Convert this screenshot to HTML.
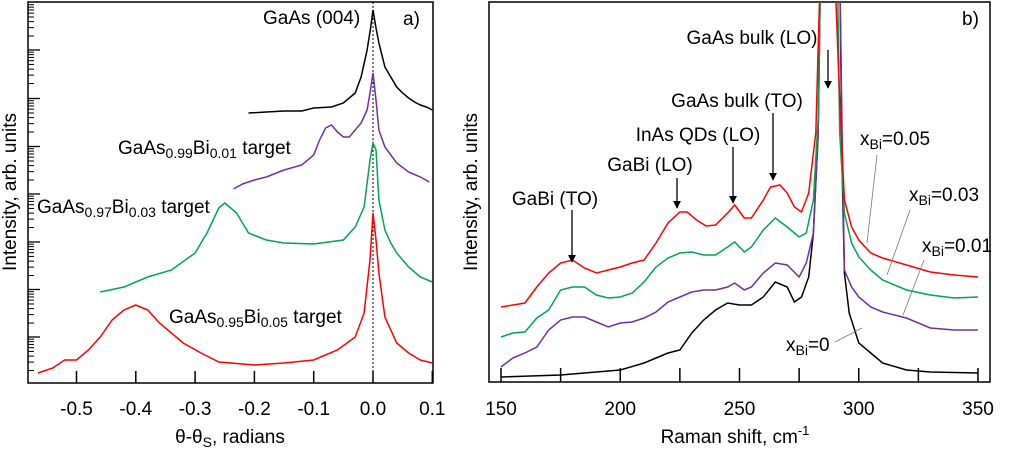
<!DOCTYPE html>
<html><head><meta charset="utf-8"><style>
html,body{margin:0;padding:0;background:#fff;}
svg{display:block;font-family:"Liberation Sans",Arial,sans-serif;}
</style></head><body>
<svg id="fig" width="1024" height="450" viewBox="0 0 1024 450" xmlns="http://www.w3.org/2000/svg">
<defs>
<clipPath id="clipA"><rect x="28" y="2" width="405" height="381"/></clipPath>
<clipPath id="clipB"><rect x="489" y="2" width="501" height="380"/></clipPath>
</defs>
<g id="panelA"></g>
<g id="panelB"></g>
</svg>
<script>
// ---- Panel a data (x: θ-θS radians, y: arb. intensity, 0 = bottom of axes) ----
const aXTicks = [-0.5,-0.4,-0.3,-0.2,-0.1,0.0,0.1];
const aXTickLabels = ["-0.5","-0.4","-0.3","-0.2","-0.1","0.0","0.1"];
const aBlackX = [-0.21,-0.18,-0.15,-0.12,-0.1,-0.07,-0.05,-0.03,-0.02,-0.01,-0.004,0.0,0.005,0.01,0.02,0.03,0.04,0.05,0.06,0.07,0.08,0.09,0.1];
const aBlackY = [270,271,272,272,275,276,280,290,306,333,355,373,355,340,316,306,296,290,285,281,278,276,273];
const aPurpleX = [-0.235,-0.22,-0.2,-0.18,-0.15,-0.12,-0.1,-0.09,-0.08,-0.07,-0.06,-0.05,-0.04,-0.02,-0.01,-0.005,0.0,0.005,0.01,0.02,0.03,0.04,0.06,0.08,0.095];
const aPurpleY = [194,199,203,206,213,218,228,243,255,258,251,246,246,260,273,290,310,283,253,236,228,220,211,206,201];
const aGreenX = [-0.46,-0.42,-0.38,-0.34,-0.3,-0.28,-0.26,-0.25,-0.23,-0.21,-0.18,-0.15,-0.1,-0.05,-0.03,-0.015,-0.005,0.0,0.005,0.01,0.02,0.03,0.04,0.06,0.08,0.1];
const aGreenY = [91,96,106,113,130,150,175,180,170,150,143,140,139,143,156,176,223,240,233,183,153,140,130,116,106,101];
const aRedX = [-0.565,-0.54,-0.52,-0.5,-0.48,-0.46,-0.44,-0.42,-0.4,-0.38,-0.36,-0.34,-0.32,-0.29,-0.26,-0.2,-0.15,-0.1,-0.06,-0.03,-0.015,-0.005,0.0,0.005,0.01,0.02,0.04,0.06,0.08,0.1];
const aRedY = [10,15,23,23,33,46,63,73,78,73,60,50,40,30,21,18,20,23,33,46,70,123,170,143,110,66,40,30,23,20];

// ---- Panel b data (x: Raman shift cm-1, y: arb. intensity, 0 = bottom of axes) ----
const bXTicks = [150,175,200,225,250,275,300,325,350];
const bXTickLabels = ["150","200","250","300","350"];
const bXLabelVals = [150,200,250,300,350];
const bRamanX = [150,160,165,170,175,180,185,190,195,200,205,210,215,220,225,228,232,236,240,245,248,252,255,260,263,267,270,273,276,279,282,284,287,291,292,294,297,300,305,310,320,330,340,350];
const bRedY = [75,79,95,109,119,122,114,109,112,115,119,122,139,159,170,170,162,156,157,169,177,164,164,182,195,197,189,175,170,189,249,420,600,345,282,182,155,142,129,124,117,110,107,105];
const bGreenX = [150,155,160,165,170,175,180,185,190,195,200,205,210,215,220,225,230,235,240,245,248,252,255,260,265,270,275,278,281,283,284,287,291,292,294,297,300,305,310,320,330,340,350];
const bGreenY = [45,49,50,64,72,92,95,95,87,84,85,89,100,115,124,129,130,127,127,135,140,130,135,152,164,155,145,149,182,265,420,600,420,249,169,139,125,112,102,92,87,84,85];
const bPurpleX = [150,155,160,165,170,175,180,185,190,195,200,205,210,215,220,225,230,235,240,245,248,252,255,260,265,270,275,278,281,283,284,287,292,293,294,297,300,305,310,320,330,340,350];
const bPurpleY = [15,24,29,35,52,62,65,65,60,55,59,60,64,70,80,85,90,92,92,95,99,92,95,109,119,117,105,119,149,249,420,600,420,249,112,95,85,75,70,64,54,52,52];
const bBlackX = [150,175,200,210,220,225,230,235,240,245,250,255,260,265,270,273,276,279,281,283,284,287,292,293,294,296,300,305,310,320,330,350];
const bBlackY = [5,7,12,19,29,32,49,62,72,79,77,77,85,100,95,80,85,105,149,249,420,600,420,215,109,69,39,29,19,12,10,9];

const NS="http://www.w3.org/2000/svg";
function mk(tag, attrs, parent){const e=document.createElementNS(NS,tag);for(const k in attrs)e.setAttribute(k,attrs[k]);parent.appendChild(e);return e;}

// ---------- Panel A ----------
const A = {l:28,t:2,r:433,b:383};
const ax = v => 373 + v*593;
const ay = v => A.b - v;
const pA = document.getElementById('panelA');
const frameA = mk('rect',{x:A.l,y:A.t,width:A.r-A.l,height:A.b-A.t,fill:'none',stroke:'#000','stroke-width':1.5},pA);


aXTicks.forEach((v,i)=>{
  const t=mk('line',{x1:ax(v),x2:ax(v),y1:A.b,y2:A.b-12,stroke:'#000','stroke-width':1.5},pA);
  
  
  const lb=mk('text',{x:ax(v),y:415,'font-size':19,'text-anchor':'middle',fill:'#000'},pA);
  lb.textContent=aXTickLabels[i];
  
  
});
const majors=[2.5,50,98.5,146.5,194,242,289.5,337,384];
majors.forEach(m=>{
  if(m>5&&m<383){
    const t=mk('line',{x1:A.l,x2:A.l+12,y1:m,y2:m,stroke:'#000','stroke-width':1.3},pA);
    
    
  }
  for(let k=2;k<=9;k++){
    const y=m+(1-Math.log10(k))*48;
    if(y>A.t+1&&y<A.b-1){
      const t=mk('line',{x1:A.l,x2:A.l+6,y1:y,y2:y,stroke:'#000','stroke-width':1},pA);
      
      
    }
  }
});
const dash=mk('line',{x1:ax(0),x2:ax(0),y1:A.t,y2:A.b,stroke:'#000','stroke-width':1,'stroke-dasharray':'2,2'},pA);


function seriesA(xs,ys,color,name){
  const d=xs.map((x,i)=>(i?'L':'M')+ax(x).toFixed(1)+','+ay(ys[i]).toFixed(1)).join(' ');
  const p=mk('path',{d:d,fill:'none',stroke:color,'stroke-width':1.5,'clip-path':'url(#clipA)'},pA);
  
  
}
seriesA(aBlackX,aBlackY,'#000','series-gaas');
seriesA(aPurpleX,aPurpleY,'#7030a0','series-bi001');
seriesA(aGreenX,aGreenY,'#00a550','series-bi003');
seriesA(aRedX,aRedY,'#ff0000','series-bi005');

// ---------- Panel B ----------
const B = {l:489,t:2,r:990,b:382};
const bx = v => 501 + (v-150)*2.385;
const by = v => B.b - v;
const pB = document.getElementById('panelB');
const frameB = mk('rect',{x:B.l,y:B.t,width:B.r-B.l,height:B.b-B.t,fill:'none',stroke:'#000','stroke-width':1.5},pB);


bXTicks.forEach(v=>{
  const t=mk('line',{x1:bx(v),x2:bx(v),y1:B.b,y2:B.b-14,stroke:'#000','stroke-width':1.5},pB);
  
  
});
bXLabelVals.forEach((v,i)=>{
  const lb=mk('text',{x:bx(v),y:415,'font-size':19,'text-anchor':'middle',fill:'#000'},pB);
  lb.textContent=bXTickLabels[i];
  
  
});
function seriesB(xs,ys,color,name){
  const d=xs.map((x,i)=>(i?'L':'M')+bx(x).toFixed(1)+','+by(ys[i]).toFixed(1)).join(' ');
  const p=mk('path',{d:d,fill:'none',stroke:color,'stroke-width':1.5,'clip-path':'url(#clipB)'},pB);
  
  
}
seriesB(bBlackX,bBlackY,'#000','series-xbi-0');
seriesB(bPurpleX,bPurpleY,'#7030a0','series-xbi-001');
seriesB(bGreenX,bGreenY,'#00a550','series-xbi-003');
seriesB(bRamanX,bRedY,'#ff0000','series-xbi-005');
</script>
<svg style="position:absolute;left:0;top:0" width="1024" height="450" viewBox="0 0 1024 450" font-family="Liberation Sans, Arial, sans-serif">
<defs><marker id="ah" viewBox="0 0 10 10" refX="9" refY="5" markerWidth="8" markerHeight="11" orient="auto" markerUnits="userSpaceOnUse"><path d="M0,0 L10,5 L0,10 z" fill="#000"/></marker></defs>
<g font-size="19" fill="#000">
<text x="263" y="24">GaAs (004)</text>
<text x="403" y="25">a)</text>
<text x="118" y="154">GaAs<tspan font-size="14" dy="4">0.99</tspan><tspan dy="-4">Bi</tspan><tspan font-size="14" dy="4">0.01</tspan><tspan dy="-4"> target</tspan></text>
<text x="37" y="213">GaAs<tspan font-size="14" dy="4">0.97</tspan><tspan dy="-4">Bi</tspan><tspan font-size="14" dy="4">0.03</tspan><tspan dy="-4"> target</tspan></text>
<text x="169" y="323">GaAs<tspan font-size="14" dy="4">0.95</tspan><tspan dy="-4">Bi</tspan><tspan font-size="14" dy="4">0.05</tspan><tspan dy="-4"> target</tspan></text>
<text x="230" y="443" text-anchor="middle">θ-θ<tspan font-size="14" dy="4">S</tspan><tspan dy="-4">, radians</tspan></text>
<text transform="translate(16,192) rotate(-90)" text-anchor="middle">Intensity, arb. units</text>
<text transform="translate(477,192) rotate(-90)" text-anchor="middle">Intensity, arb. units</text>
<text x="735" y="443" text-anchor="middle">Raman shift, cm<tspan font-size="13" dy="-8">-1</tspan></text>
<text x="962" y="25">b)</text>
<text x="752" y="44" text-anchor="middle">GaAs bulk (LO)</text>
<text x="737" y="107" text-anchor="middle">GaAs bulk (TO)</text>
<text x="698" y="141" text-anchor="middle">InAs QDs (LO)</text>
<text x="650" y="171" text-anchor="middle">GaBi (LO)</text>
<text x="555" y="205" text-anchor="middle">GaBi (TO)</text>
<text x="860" y="145">x<tspan font-size="14" dy="4">Bi</tspan><tspan dy="-4">=0.05</tspan></text>
<text x="909" y="201">x<tspan font-size="14" dy="4">Bi</tspan><tspan dy="-4">=0.03</tspan></text>
<text x="922" y="252">x<tspan font-size="14" dy="4">Bi</tspan><tspan dy="-4">=0.01</tspan></text>
<text x="786" y="351">x<tspan font-size="14" dy="4">Bi</tspan><tspan dy="-4">=0</tspan></text>
</g>
<g stroke="#000" stroke-width="1.3" marker-end="url(#ah)">
<line x1="828" y1="50" x2="828" y2="88"/>
<line x1="773" y1="113" x2="773" y2="180"/>
<line x1="733" y1="147" x2="733" y2="203"/>
<line x1="677" y1="178" x2="677" y2="208"/>
<line x1="572" y1="210" x2="572" y2="262"/>
</g>
<g stroke="#777" stroke-width="0.8">
<line x1="877" y1="155" x2="867" y2="243"/>
<line x1="910" y1="210" x2="887" y2="275"/>
<line x1="924" y1="260" x2="903" y2="315"/>
<line x1="835" y1="342" x2="862" y2="328"/>
</g>
</svg>
</body></html>
